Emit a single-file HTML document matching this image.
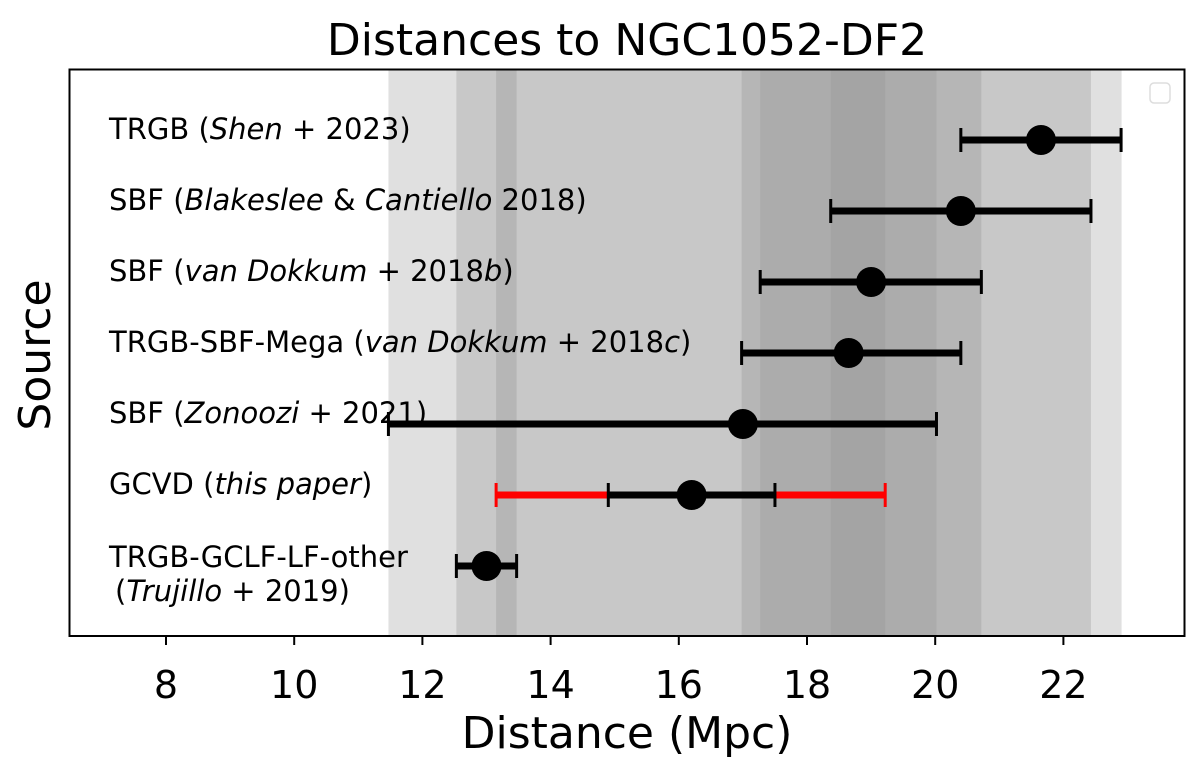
<!DOCTYPE html>
<html><head><meta charset="utf-8"><style>
body{margin:0;background:#fff}
svg{display:block;font-family:"DejaVu Sans","Liberation Sans",sans-serif}
</style></head><body>
<svg id="chart" width="1200" height="766" viewBox="0 0 1200 766">
<text x="627" y="55" text-anchor="middle" font-size="44">Distances to NGC1052-DF2</text>
<text x="627" y="748" text-anchor="middle" font-size="44">Distance (Mpc)</text>
<text transform="translate(50,355) rotate(-90)" text-anchor="middle" font-size="44">Source</text>
<g id="bands"></g>
<g id="ticks"></g>
<g id="labels" font-size="29">
<text x="109" y="139">TRGB (<tspan font-style="italic">Shen</tspan> + 2023)</text>
<text x="109" y="210">SBF (<tspan font-style="italic">Blakeslee</tspan> &amp; <tspan font-style="italic">Cantiello</tspan> 2018)</text>
<text x="109" y="281">SBF (<tspan font-style="italic">van Dokkum</tspan> + 2018<tspan font-style="italic">b</tspan>)</text>
<text x="109" y="352">TRGB-SBF-Mega (<tspan font-style="italic">van Dokkum</tspan> + 2018<tspan font-style="italic">c</tspan>)</text>
<text x="109" y="423">SBF (<tspan font-style="italic">Zonoozi</tspan> + 2021)</text>
<text x="109" y="494">GCVD (<tspan font-style="italic">this paper</tspan>)</text>
<text x="109" y="567">TRGB-GCLF-LF-other</text>
<text x="115" y="601">(<tspan font-style="italic">Trujillo</tspan> + 2019)</text>
</g>
<g id="marks"></g>
<rect x="1150" y="83" width="20" height="20" rx="4" fill="#fff" stroke="#ddd" stroke-width="1.5"/>
<rect x="69.5" y="69.5" width="1115" height="566.5" fill="none" stroke="#000" stroke-width="2"/>
</svg>
<script>
const sources = ["Shen 2023","Blakeslee 2018","van Dokkum 2018b","van Dokkum 2018c","Zonoozi 2021","GCVD","Trujillo 2019"];
const centers = [21.65, 20.4, 19.0, 18.65, 17.0, 16.2, 13.0];
const lows = [20.4, 18.37, 17.27, 16.98, 11.47, 13.15, 12.53];
const highs = [22.9, 22.43, 20.72, 20.4, 20.02, 19.22, 13.47];
const innerLow = [14.9];
const innerHigh = [17.5];
const xTicks = [8, 10, 12, 14, 16, 18, 20, 22];
const NS = "http://www.w3.org/2000/svg";
const shade = [255, 224, 200, 182, 172, 164, 158, 152];
function xs(v){ return 166 + (v - 8) * 64.1; }
function ys(i){ return 140 + i * 71; }
function mk(tag, attrs, parent){ const e = document.createElementNS(NS, tag); for (const k in attrs) e.setAttribute(k, attrs[k]); parent.appendChild(e); return e; }
const bands = document.getElementById('bands'), ticks = document.getElementById('ticks'), marks = document.getElementById('marks');
const edges = Array.from(new Set(lows.concat(highs))).sort((a,b)=>a-b);
for (let k = 0; k < edges.length - 1; k++) {
  const a = edges[k], b = edges[k+1], m = (a+b)/2;
  let n = 0;
  for (let i = 0; i < lows.length; i++) if (lows[i] < m && highs[i] > m) n++;
  if (!n) continue;
  const g = shade[Math.min(n, shade.length-1)];
  const r = mk('rect', {x: xs(a), y: 70, width: xs(b) - xs(a) + 0.5, height: 566, fill: `rgb(${g},${g},${g})`}, bands);
  
  
}
xTicks.forEach(t => {
  const l = mk('line', {x1: xs(t), x2: xs(t), y1: 636, y2: 645, stroke: '#000', 'stroke-width': 2}, ticks);
  
  
  const tx = mk('text', {x: xs(t), y: 698, 'text-anchor': 'middle', 'font-size': 38}, ticks);
  tx.textContent = t;
  
  
});
function errbar(lo, hi, y, color){
  const g = mk('g', {stroke: color}, marks);
  
  
  mk('line', {x1: xs(lo), x2: xs(hi), y1: y, y2: y, 'stroke-width': 7}, g);
  mk('line', {x1: xs(lo), x2: xs(lo), y1: y - 12, y2: y + 12, 'stroke-width': 3}, g);
  mk('line', {x1: xs(hi), x2: xs(hi), y1: y - 12, y2: y + 12, 'stroke-width': 3}, g);
}
for (let i = 0; i < sources.length; i++) {
  const y = ys(i);
  if (i === 5) { errbar(lows[i], highs[i], y, '#ff0000'); errbar(innerLow[0], innerHigh[0], y, '#000'); }
  else errbar(lows[i], highs[i], y, '#000');
  const c = mk('circle', {cx: xs(centers[i]), cy: y, r: 15, fill: '#000'}, marks);
  
  
}
</script>
</body></html>
